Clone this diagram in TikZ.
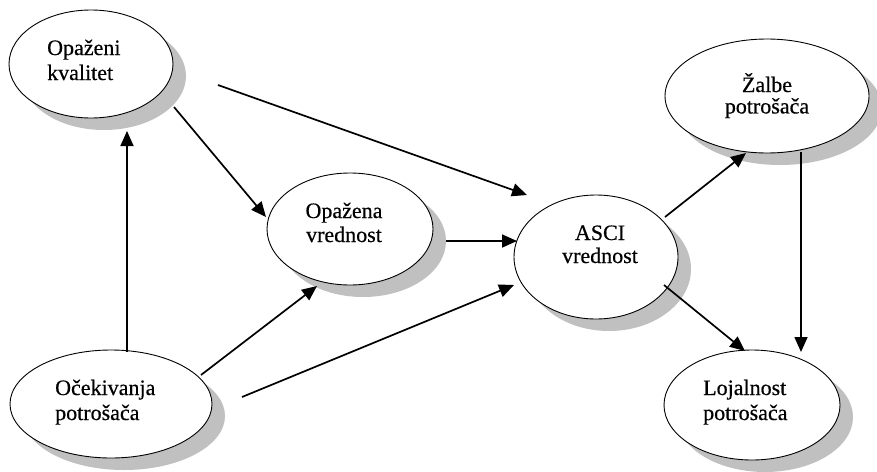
\documentclass[tikz,border=0pt]{standalone}
\usepackage{fontspec}
\setmainfont{Liberation Serif}
\newfontfamily\lblfont{Liberation Serif}[FakeBold=0.5]
\usetikzlibrary{shapes.geometric,arrows.meta,calc}
\definecolor{shadowgray}{RGB}{192,192,192}
\newcommand{\twolines}[3]{\begin{tabular}[t]{@{}#1@{}}#2\\#3\end{tabular}}
\begin{document}
\begin{tikzpicture}[x=1pt,y=-1pt,
  ell/.style={ellipse, draw, line width=0.9pt, fill=white, inner sep=0pt},
  shd/.style={fill=shadowgray},
  lbl/.style={inner sep=0pt, font=\lblfont\fontsize{22}{25}\selectfont},
  arr/.style={line width=1.7pt, -{Triangle[length=15pt,width=13pt]}}]
\fill[white] (0,0) rectangle (877,471);
\useasboundingbox (0,0) rectangle (877,471);
% shadows
\fill[shd] (104,76) ellipse [x radius=82pt, y radius=54pt];
\fill[shd] (124,416) ellipse [x radius=101pt, y radius=54pt];
\fill[shd] (363,241) ellipse [x radius=83pt, y radius=56pt];
\fill[shd] (609,269) ellipse [x radius=82pt, y radius=62pt];
\fill[shd] (780,108) ellipse [x radius=102pt, y radius=57pt];
\fill[shd] (765,417) ellipse [x radius=88pt, y radius=55pt];
% ellipses
\node[ell, minimum width=164pt, minimum height=108pt] (ok) at (91,64) {};
\node[ell, minimum width=202pt, minimum height=108pt] (oc) at (111,404) {};
\node[ell, minimum width=166pt, minimum height=112pt] (opv) at (350,229) {};
\node[ell, minimum width=164pt, minimum height=124pt] (asci) at (596,257) {};
\node[ell, minimum width=204pt, minimum height=114pt] (zal) at (767,96) {};
\node[ell, minimum width=176pt, minimum height=110pt] (loj) at (752,405) {};
% texts
\node[lbl, anchor=base west] (okt) at (47,55) {\twolines{l}{Opaženi}{kvalitet}};
\node[lbl, anchor=base west] (oct) at (55,395) {\twolines{l}{Očekivanja}{potrošača}};
\node[lbl, anchor=base] (opvt) at (344,218) {\fontsize{22}{24}\selectfont\twolines{c}{Opažena}{vrednost}};
\node[lbl, anchor=base] (ascit) at (600,240) {\fontsize{22}{23}\selectfont\twolines{c}{ASCI}{vrednost}};
\node[lbl, anchor=base] (zalt) at (767,92) {\fontsize{22}{20.5}\selectfont\twolines{c}{Žalbe}{potrošača}};
\node[lbl, anchor=base west] (lojt) at (703,395) {\twolines{l}{Lojalnost}{potrošača}};
% connectors
\draw[arr] ($(ok)+(127,21)$) -- ($(asci)+(-69,-62)$);
\draw[arr] ($(ok)+(83,43)$) -- ($(opv)+(-84,-12)$);
\draw[arr] ($(oc)+(16,-52)$) -- ($(ok)+(36,67)$);
\draw[arr] ($(oc)+(90,-29)$) -- ($(opv)+(-33,57)$);
\draw[arr] ($(oc)+(131,-7)$) -- ($(asci)+(-82,28)$);
\draw[arr] ($(opv)+(96,12)$) -- ($(asci)+(-79,-16)$);
\draw[arr] ($(asci)+(69,-40)$) -- ($(zal)+(-21,57)$);
\draw[arr] ($(asci)+(68,28)$) -- ($(loj)+(-7,-54)$);
\draw[arr] ($(zal)+(34,56)$) -- ($(loj)+(49,-53)$);
\end{tikzpicture}
\end{document}
